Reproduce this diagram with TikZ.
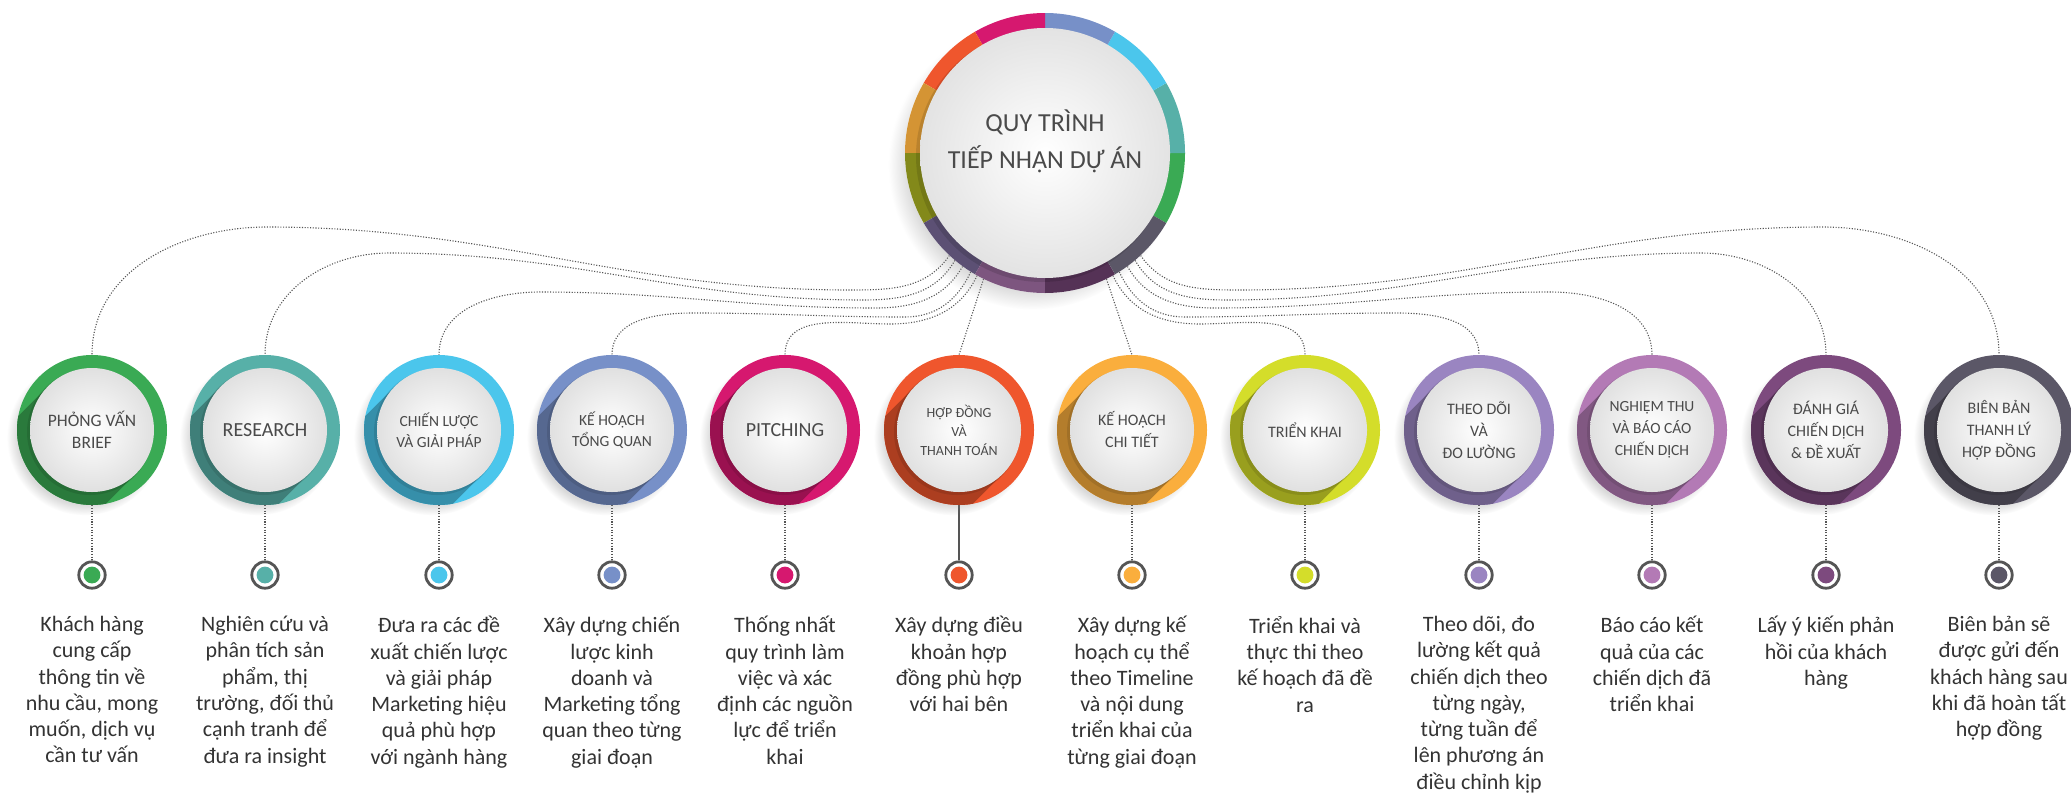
\documentclass[tikz,border=0pt]{standalone}
\usepackage{fontspec}
\setmainfont{Carlito}
\usetikzlibrary{shadows,calc,backgrounds}

\definecolor{cBrief}{HTML}{3AAA54}
\definecolor{cResearch}{HTML}{57B0A8}
\definecolor{cStrategy}{HTML}{4BC6EC}
\definecolor{cPlan}{HTML}{7790C8}
\definecolor{cPitch}{HTML}{D6186F}
\definecolor{cContract}{HTML}{EF562D}
\definecolor{cDetail}{HTML}{FAAE3D}
\definecolor{cDeploy}{HTML}{D4DD2A}
\definecolor{cTrack}{HTML}{9A85C1}
\definecolor{cReport}{HTML}{B37AB5}
\definecolor{cReview}{HTML}{7D4A7E}
\definecolor{cClose}{HTML}{5B5767}
\definecolor{labelgray}{HTML}{4A4A4A}
\definecolor{textgray}{HTML}{333333}
\definecolor{markgray}{HTML}{555555}

\tikzset{
  hub/.style={ circle, minimum size=280pt, inner sep=0pt, fill=white,
    circular drop shadow={shadow scale=1.03, shadow xshift=-12pt, shadow yshift=-12pt, opacity=.3},
    path picture={
      \coordinate (hc) at (path picture bounding box.center);
      \fill [ cBrief ] (hc) -- ++(-30:150pt) arc [ start angle=-30, end angle=0, radius=150pt ] -- cycle;
      \fill [ cResearch ] (hc) -- ++(0:150pt) arc [ start angle=0, end angle=30, radius=150pt ] -- cycle;
      \fill [ cStrategy ] (hc) -- ++(30:150pt) arc [ start angle=30, end angle=60, radius=150pt ] -- cycle;
      \fill [ cPlan ] (hc) -- ++(60:150pt) arc [ start angle=60, end angle=90, radius=150pt ] -- cycle;
      \fill [ cPitch ] (hc) -- ++(90:150pt) arc [ start angle=90, end angle=120, radius=150pt ] -- cycle;
      \fill [ cContract ] (hc) -- ++(120:150pt) arc [ start angle=120, end angle=150, radius=150pt ] -- cycle;
      \fill [ cDetail!85!black ] (hc) -- ++(150:150pt) arc [ start angle=150, end angle=180, radius=150pt ] -- cycle;
      \fill [ cDeploy!62!black ] (hc) -- ++(180:150pt) arc [ start angle=180, end angle=210, radius=150pt ] -- cycle;
      \fill [ cTrack!60!black ] (hc) -- ++(210:150pt) arc [ start angle=210, end angle=240, radius=150pt ] -- cycle;
      \fill [ cReport!70!black ] (hc) -- ++(240:150pt) arc [ start angle=240, end angle=270, radius=150pt ] -- cycle;
      \fill [ cReview!68!black ] (hc) -- ++(270:150pt) arc [ start angle=270, end angle=300, radius=150pt ] -- cycle;
      \fill [ cClose ] (hc) -- ++(300:150pt) arc [ start angle=300, end angle=330, radius=150pt ] -- cycle;
      \fill [ black, opacity=.12 ] ($(hc)+(-3pt,-3pt)$) circle (126pt);
      \shade [ inner color=white, outer color=black!11 ] (hc) circle (125pt);
    } },
  title/.style={ align=center, inner sep=0pt, text=labelgray, font=\fontsize{26}{37}\selectfont },
  stepring/.style={ circle, minimum size=150pt, inner sep=0pt, fill=#1, text=labelgray, align=center,
    font=\fontsize{16}{22}\selectfont,
    circular drop shadow={shadow scale=1.04, shadow xshift=-7pt, shadow yshift=-7pt, opacity=.3},
    path picture={
      \coordinate (sc) at (path picture bounding box.center);
      \fill [ #1!72!black ] ($(sc)+(135:62pt)$) -- ++(225:200pt) -- ($(sc)+(-45:62pt)+(225:200pt)$) -- ($(sc)+(-45:62pt)$) -- cycle;
      \fill [ black, opacity=.1 ] ($(sc)+(-2pt,-2pt)$) circle (63pt);
      \shade [ inner color=white, outer color=black!12 ] (sc) circle (62pt);
    } },
  marker/.style={ circle, minimum size=26.4pt, inner sep=0pt, draw=markgray, line width=2.8pt, fill=white,
    path picture={ \fill [ #1 ] (path picture bounding box.center) circle (8.4pt); } },
  desc/.style={ align=center, inner sep=0pt, text=textgray, font=\fontsize{22}{26.3}\selectfont, anchor=north,
    execute at begin node={\rule{0pt}{20pt}} },
  link/.style={ markgray, line width=1.1pt, dash pattern=on 1.1pt off 1.6pt }
}

\begin{document}
\begin{tikzpicture}[ x=1pt, y=1pt ]
  \useasboundingbox (0,0) rectangle (2071,-798);

  \node [ hub ] (hub) at (1045,-153) {};
  \node [ title ] (head) at (1045,-141) {QUY TRÌNH\\TIẾP NHẬN DỰ ÁN};

  \node [ stepring=cBrief, font=\fontsize{17.5}{22}\selectfont ] (s1) at (92,-430) {PHỎNG VẤN\\BRIEF};
  \node [ stepring=cResearch, font=\fontsize{20}{22}\selectfont ] (s2) at (265,-430) {RESEARCH};
  \node [ stepring=cStrategy, font=\fontsize{15.5}{21}\selectfont ] (s3) at (439,-430) {CHIẾN LƯỢC\\VÀ GIẢI PHÁP};
  \node [ stepring=cPlan, font=\fontsize{15.5}{21}\selectfont ] (s4) at (612,-430) {KẾ HOẠCH\\TỔNG QUAN};
  \node [ stepring=cPitch, font=\fontsize{20}{22}\selectfont ] (s5) at (785,-430) {PITCHING};
  \node [ stepring=cContract, font=\fontsize{14}{19}\selectfont ] (s6) at (959,-430) {HỢP ĐỒNG\\VÀ\\THANH TOÁN};
  \node [ stepring=cDetail ] (s7) at (1132,-430) {KẾ HOẠCH\\CHI TIẾT};
  \node [ stepring=cDeploy ] (s8) at (1305,-430) {TRIỂN KHAI};
  \node [ stepring=cTrack ] (s9) at (1479,-430) {THEO DÕI\\VÀ\\ĐO LƯỜNG};
  \node [ stepring=cReport, font=\fontsize{15.5}{22}\selectfont ] (s10) at (1652,-430) {NGHIỆM THU\\VÀ BÁO CÁO\\CHIẾN DỊCH};
  \node [ stepring=cReview ] (s11) at (1826,-430) {ĐÁNH GIÁ\\CHIẾN DỊCH\\\& ĐỀ XUẤT};
  \node [ stepring=cClose ] (s12) at (1999,-430) {BIÊN BẢN\\THANH LÝ\\HỢP ĐỒNG};

  \node [ marker=cBrief ] (d1) at (92,-575) {};
  \node [ marker=cResearch ] (d2) at (265,-575) {};
  \node [ marker=cStrategy ] (d3) at (439,-575) {};
  \node [ marker=cPlan ] (d4) at (612,-575) {};
  \node [ marker=cPitch ] (d5) at (785,-575) {};
  \node [ marker=cContract ] (d6) at (959,-575) {};
  \node [ marker=cDetail ] (d7) at (1132,-575) {};
  \node [ marker=cDeploy ] (d8) at (1305,-575) {};
  \node [ marker=cTrack ] (d9) at (1479,-575) {};
  \node [ marker=cReport ] (d10) at (1652,-575) {};
  \node [ marker=cReview ] (d11) at (1826,-575) {};
  \node [ marker=cClose ] (d12) at (1999,-575) {};

  \node [ desc ] (t1) at (92,-616) {Khách hàng\\cung cấp\\thông tin về\\nhu cầu, mong\\muốn, dịch vụ\\cần tư vấn};
  \node [ desc ] (t2) at (265,-616) {Nghiên cứu và\\phân tích sản\\phẩm, thị\\trường, đối thủ\\cạnh tranh để\\đưa ra insight};
  \node [ desc ] (t3) at (439,-616) {Đưa ra các đề\\xuất chiến lược\\và giải pháp\\Marketing hiệu\\quả phù hợp\\với ngành hàng};
  \node [ desc ] (t4) at (612,-616) {Xây dựng chiến\\lược kinh\\doanh và\\Marketing tổng\\quan theo từng\\giai đoạn};
  \node [ desc ] (t5) at (785,-616) {Thống nhất\\quy trình làm\\việc và xác\\định các nguồn\\lực để triển\\khai};
  \node [ desc ] (t6) at (959,-616) {Xây dựng điều\\khoản hợp\\đồng phù hợp\\với hai bên};
  \node [ desc ] (t7) at (1132,-616) {Xây dựng kế\\hoạch cụ thể\\theo Timeline\\và nội dung\\triển khai của\\từng giai đoạn};
  \node [ desc ] (t8) at (1305,-616) {Triển khai và\\thực thi theo\\kế hoạch đã đề\\ra};
  \node [ desc ] (t9) at (1479,-616) {Theo dõi, đo\\lường kết quả\\chiến dịch theo\\từng ngày,\\từng tuần để\\lên phương án\\điều chỉnh kịp};
  \node [ desc ] (t10) at (1652,-616) {Báo cáo kết\\quả của các\\chiến dịch đã\\triển khai};
  \node [ desc ] (t11) at (1826,-616) {Lấy ý kiến phản\\hồi của khách\\hàng};
  \node [ desc ] (t12) at (1999,-616) {Biên bản sẽ\\được gửi đến\\khách hàng sau\\khi đã hoàn tất\\hợp đồng};

  \begin{scope}[ on background layer ]
    \draw [ link ] (hub.227) to [ out=235, in=0 ] (850,-290) to [ out=180, in=0 ] (267,-227) to [ out=180, in=90 ] (s1.north);
    \draw [ link ] (hub.230) to [ out=240, in=0 ] (863,-300) to [ out=180, in=0 ] (389,-253) to [ out=180, in=90 ] (s2.north);
    \draw [ link ] (hub.234) to [ out=240, in=0 ] (875,-308) to [ out=180, in=0 ] (540,-292) to [ out=180, in=90 ] (s3.north);
    \draw [ link ] (hub.238) to [ out=245, in=0 ] (905,-317) to [ out=180, in=0 ] (694,-313) to [ out=180, in=90 ] (s4.north);
    \draw [ link ] (hub.241) to [ out=245, in=0 ] (890,-324) to [ out=180, in=90 ] (s5.north);
    \draw [ link ] (hub.244) -- (s6.north);
    \draw [ link ] (hub.296) -- (s7.north);
    \draw [ link ] (hub.299) to [ out=295, in=180 ] (1200,-324) to [ out=0, in=90 ] (s8.north);
    \draw [ link ] (hub.302) to [ out=295, in=180 ] (1185,-317) to [ out=0, in=180 ] (1396,-313) to [ out=0, in=90 ] (s9.north);
    \draw [ link ] (hub.306) to [ out=300, in=180 ] (1215,-308) to [ out=0, in=180 ] (1550,-292) to [ out=0, in=90 ] (s10.north);
    \draw [ link ] (hub.310) to [ out=300, in=180 ] (1227,-300) to [ out=0, in=180 ] (1701,-253) to [ out=0, in=90 ] (s11.north);
    \draw [ link ] (hub.313) to [ out=305, in=180 ] (1240,-290) to [ out=0, in=180 ] (1823,-227) to [ out=0, in=90 ] (s12.north);

    \draw [ link ] (s1.south) -- (d1.north);
    \draw [ link ] (s2.south) -- (d2.north);
    \draw [ link ] (s3.south) -- (d3.north);
    \draw [ link ] (s4.south) -- (d4.north);
    \draw [ link ] (s5.south) -- (d5.north);
    \draw [ markgray, line width=1.4pt ] (s6.south) -- (d6.north);
    \draw [ link ] (s7.south) -- (d7.north);
    \draw [ link ] (s8.south) -- (d8.north);
    \draw [ link ] (s9.south) -- (d9.north);
    \draw [ link ] (s10.south) -- (d10.north);
    \draw [ link ] (s11.south) -- (d11.north);
    \draw [ link ] (s12.south) -- (d12.north);
  \end{scope}
\end{tikzpicture}
\end{document}
